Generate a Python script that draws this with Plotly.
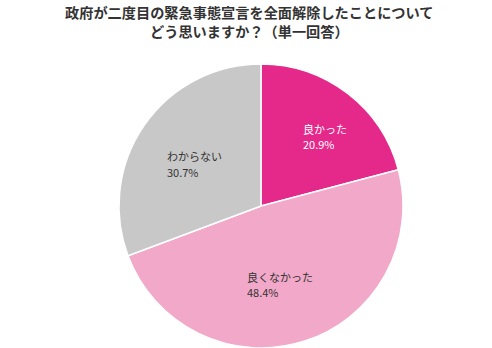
import math
import plotly.graph_objects as go

labels = ["良かった", "良くなかった", "わからない"]
values = [20.9, 48.4, 30.7]
colors = ["#e5298b", "#f2a8c8", "#c8c8c8"]
text_colors = ["#ffffff", "#333333", "#333333"]
title_lines = ["政府が二度目の緊急事態宣言を全面解除したことについて", "どう思いますか？（単一回答）"]

W, H = 492, 348
cx, cy, R = 261, 206, 142
label_r = [0.655, 0.56, 0.57]      # radial placement of label blocks (fraction of radius)
label_angle_shift = [3.7, 6.0, -3.0]  # degrees, fine placement
char_w = 10.3
fs = 11

fig = go.Figure(go.Pie(
    labels=labels, values=values, sort=False, direction="clockwise", rotation=0,
    marker=dict(colors=colors, line=dict(color="#ffffff", width=1.5)),
    textinfo="none", hoverinfo="label+percent", showlegend=False,
    domain=dict(x=[(cx - R) / W, (cx + R) / W], y=[(H - cy - R) / H, (H - cy + R) / H]),
))

total = sum(values)
cum = 0
annotations = []
for i, (lab, v, tc) in enumerate(zip(labels, values, text_colors)):
    mid = (cum + v / 2) / total * 2 * math.pi + math.radians(label_angle_shift[i])
    cum += v
    r = label_r[i] * R
    px = cx + r * math.sin(mid)
    py = cy - r * math.cos(mid)
    left = px - len(lab) * char_w / 2
    for txt, dy in ((lab, -7.6), (f"{v:.1f}%", 7.6)):
        annotations.append(dict(
            x=left / W, y=1 - (py + dy) / H, xref="paper", yref="paper",
            text=txt, showarrow=False, xanchor="left", yanchor="middle",
            height=13, borderpad=0,
            font=dict(family="Noto Sans CJK JP", size=fs, color=tc),
        ))

for line, yc in zip(title_lines, (11.5, 30.8)):
    annotations.append(dict(
        x=249 / W, y=1 - yc / H, xref="paper", yref="paper", xanchor="center", yanchor="middle",
        text="<b>" + line + "</b>", showarrow=False, height=16, borderpad=0,
        font=dict(family="Noto Sans CJK JP", size=14.2, color="#333333"),
    ))

fig.update_layout(
    width=W, height=H, margin=dict(l=0, r=0, t=0, b=0),
    paper_bgcolor="#ffffff", plot_bgcolor="#ffffff",
    annotations=annotations,
)
fig.write_html("out.html")
